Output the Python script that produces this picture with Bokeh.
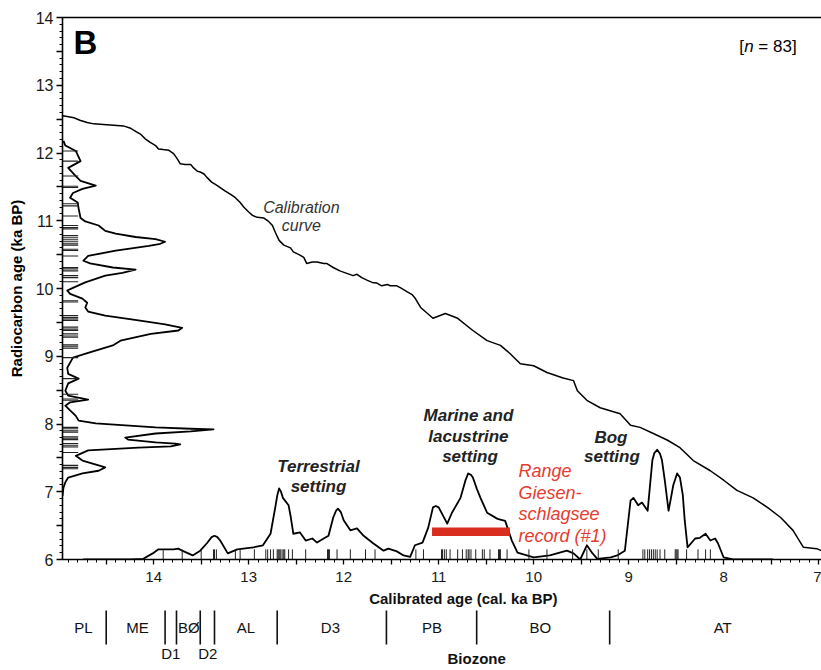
from bokeh.plotting import figure
from bokeh.models import Range1d, FixedTicker, LinearAxis, CustomJSTickFormatter
from bokeh.layouts import column
from bokeh.core.properties import value
from bokeh.embed import file_html
from bokeh.resources import INLINE
import numpy as np

FONT = "Liberation Sans"

# ---------------- data ----------------
# Calibration curve: calibrated age (cal. ka BP) vs radiocarbon age (ka BP)
cal_age = [14.96, 14.91, 14.84, 14.77, 14.70, 14.63, 14.53, 14.42, 14.32, 14.25, 14.19, 14.14,
           14.09, 14.04, 13.98, 13.95, 13.90, 13.84, 13.79, 13.75, 13.72, 13.67, 13.61, 13.58,
           13.54, 13.51, 13.47, 13.44, 13.39, 13.33, 13.30, 13.25, 13.19, 13.14, 13.09, 13.05,
           13.00, 12.96, 12.91, 12.84, 12.79, 12.75, 12.72, 12.68, 12.63, 12.56, 12.53, 12.47,
           12.42, 12.39, 12.33, 12.28, 12.21, 12.18, 12.11, 12.04, 11.96, 11.90, 11.86, 11.81,
           11.75, 11.70, 11.65, 11.60, 11.54, 11.51, 11.44, 11.40, 11.33, 11.28, 11.25,
           11.19, 11.06, 10.93, 10.80, 10.64, 10.49, 10.35, 10.25, 10.14, 10.00, 9.86, 9.69,
           9.58, 9.54, 9.44, 9.30, 9.09, 8.98, 8.88, 8.74, 8.59, 8.46, 8.32, 8.14, 8.00, 7.86,
           7.69, 7.54, 7.40, 7.27, 7.16, 7.02, 6.97]
cal_c14 = [12.55, 12.54, 12.52, 12.48, 12.45, 12.43, 12.42, 12.41, 12.40, 12.37, 12.32, 12.28,
           12.21, 12.16, 12.11, 12.06, 12.05, 12.04, 11.99, 11.91, 11.84, 11.83, 11.83, 11.78,
           11.73, 11.72, 11.69, 11.64, 11.57, 11.52, 11.49, 11.44, 11.39, 11.34, 11.27, 11.20,
           11.13, 11.08, 11.05, 11.04, 10.99, 10.93, 10.83, 10.71, 10.64, 10.60, 10.54, 10.50,
           10.46, 10.37, 10.39, 10.39, 10.37, 10.37, 10.31, 10.26, 10.22, 10.19, 10.21, 10.16,
           10.12, 10.09, 10.08, 10.04, 10.06, 10.04, 10.04, 10.01, 9.95, 9.91, 9.86,
           9.72, 9.56, 9.63, 9.56, 9.38, 9.23, 9.16, 9.04, 8.89, 8.86, 8.76, 8.68,
           8.64, 8.49, 8.35, 8.24, 8.15, 7.98, 7.95, 7.86, 7.76, 7.65, 7.46, 7.31, 7.17, 7.02,
           6.91, 6.77, 6.62, 6.43, 6.18, 6.16, 6.13]

# Summed probability of calibrated ages (height above the x axis, in ka units)
pdf_cal_age = [14.74, 14.25, 14.11, 14.01, 13.95, 13.79, 13.74, 13.70, 13.59, 13.51, 13.44, 13.39,
               13.36, 13.33, 13.30, 13.22, 13.12, 12.95, 12.85, 12.77, 12.72, 12.70, 12.68, 12.66,
               12.64, 12.58, 12.56, 12.53, 12.46,
               12.40, 12.33, 12.28, 12.21, 12.16, 12.11, 12.08, 12.06, 12.03, 12.00, 11.93, 11.86,
               11.79, 11.69,
               11.58, 11.53, 11.44, 11.37, 11.30, 11.25, 11.17, 11.11, 11.06, 11.03, 11.00, 10.91,
               10.86, 10.77, 10.72, 10.69, 10.66, 10.64, 10.60, 10.56, 10.49, 10.38, 10.30, 10.23,
               10.17, 10.00, 9.83, 9.65,
               9.58, 9.51, 9.44, 9.38, 9.33, 9.19, 9.12, 9.04, 8.98, 8.95, 8.90, 8.86, 8.80, 8.75,
               8.73, 8.70, 8.67, 8.65, 8.62, 8.58, 8.56, 8.53, 8.49, 8.46, 8.43, 8.41, 8.38, 8.30,
               8.25, 8.19, 8.14, 8.09, 8.06, 8.00,
               7.90, 7.48]
pdf_cal_h = [0.0, 0.0, 0.01, 0.09, 0.15, 0.15, 0.16, 0.13, 0.06, 0.13, 0.24, 0.33,
             0.35, 0.33, 0.28, 0.09, 0.15, 0.18, 0.21, 0.38, 0.77, 0.94, 1.05, 1.00,
             0.91, 0.80, 0.65, 0.38, 0.40,
             0.28, 0.31, 0.25, 0.31, 0.35, 0.62, 0.72, 0.75, 0.70, 0.58, 0.43, 0.46,
             0.35, 0.24,
             0.13, 0.16, 0.12, 0.06, 0.04, 0.21, 0.25, 0.47, 0.77, 0.79, 0.77, 0.53,
             0.69, 0.91, 1.16, 1.27, 1.25, 1.21, 1.05, 0.91, 0.69, 0.60, 0.57, 0.28,
             0.10, 0.03, 0.06, 0.13,
             0.09, 0.0, 0.21, 0.09, 0.01, 0.03, 0.06, 0.13, 0.87, 0.91, 0.80, 0.84, 0.72, 1.47,
             1.57, 1.62, 1.56, 1.47, 1.17, 0.72, 0.87, 1.10, 1.27, 1.21, 0.95, 0.58, 0.18, 0.31,
             0.32, 0.38, 0.28, 0.31, 0.24, 0.03,
             0.0, 0.0]

# Summed probability of radiocarbon ages (width from the y axis, in cal-ka units)
pdf_c14_age = [12.18, 12.11, 12.03, 11.88, 11.78, 11.66, 11.59, 11.52, 11.47, 11.41, 11.34, 11.27,
               11.18, 11.04, 10.99, 10.93, 10.85, 10.81, 10.76, 10.73, 10.69, 10.66, 10.63, 10.56,
               10.48, 10.41, 10.37, 10.31, 10.28, 10.23, 10.19, 10.09, 10.01, 9.97, 9.92, 9.85,
               9.79, 9.72, 9.66, 9.60, 9.53, 9.47, 9.42, 9.38, 9.33, 9.23, 9.16, 9.05, 8.98, 8.83,
               8.74, 8.67, 8.60, 8.49, 8.42, 8.36, 8.32, 8.27, 8.20, 8.12, 8.05, 8.01, 7.95, 7.93,
               7.92, 7.89, 7.86, 7.80, 7.77, 7.73, 7.71, 7.70, 7.67, 7.65, 7.61, 7.53, 7.46, 7.39,
               7.36, 7.31, 7.27, 7.21, 7.14, 7.06, 6.94]
pdf_c14_w = [0.01, 0.03, 0.14, 0.19, 0.06, 0.14, 0.19, 0.35, 0.21, 0.11, 0.08, 0.16,
             0.17, 0.19, 0.24, 0.38, 0.45, 0.56, 0.77, 0.98, 1.08, 1.03, 0.91, 0.56,
             0.27, 0.22, 0.29, 0.53, 0.77, 0.63, 0.45, 0.24, 0.11, 0.05, 0.08, 0.21,
             0.26, 0.24, 0.27, 0.45, 0.80, 1.08, 1.26, 1.22, 0.93, 0.61, 0.53, 0.27, 0.11, 0.05,
             0.06, 0.17, 0.06, 0.03, 0.06, 0.27, 0.08, 0.03, 0.08, 0.14, 0.17, 0.35, 0.98, 1.35,
             1.59, 1.35, 0.98, 0.66, 0.69, 0.98, 1.19, 1.24, 1.14, 0.80, 0.27, 0.14, 0.21, 0.38,
             0.45, 0.38, 0.21, 0.06, 0.03, 0.01, 0.0]

# Individual dates (rug marks)
rug_cal = [13.90, 13.70, 13.50, 13.37, 13.36, 13.34, 13.14, 13.09, 12.94, 12.82, 12.80, 12.77,
           12.74, 12.70, 12.69, 12.68, 12.67, 12.66, 12.64, 12.63, 12.62, 12.58, 12.54, 12.40,
           12.17, 12.16, 12.15, 12.07, 11.93, 11.77, 11.67, 11.24, 11.16, 10.97, 10.96, 10.94,
           10.92, 10.88, 10.80, 10.75, 10.71, 10.69, 10.68, 10.66, 10.61, 10.54, 10.52, 10.46,
           10.37, 10.36, 10.35, 10.28, 10.05, 9.86, 9.59, 9.44, 9.32, 9.11, 8.85, 8.83, 8.80,
           8.78, 8.76, 8.74, 8.72, 8.70, 8.67, 8.62, 8.51, 8.50, 8.49, 8.48, 8.39, 8.27, 8.19,
           8.14]
rug_c14 = [12.03, 11.88, 11.66, 11.51, 11.49, 11.25, 11.22, 11.07, 10.93, 10.90, 10.88, 10.78,
           10.75, 10.72, 10.69, 10.66, 10.64, 10.58, 10.56, 10.48, 10.31, 10.29, 10.26, 10.19,
           10.16, 10.10, 9.82, 9.80, 9.60, 9.57, 9.55, 9.53, 9.43, 9.40, 9.38, 9.33, 9.30,
           9.28, 9.17, 9.15, 9.12, 8.98, 8.67, 8.44, 8.37, 8.35, 7.95, 7.93, 7.90, 7.88, 7.81,
           7.79, 7.77, 7.71, 7.68, 7.66, 7.58, 7.39, 7.36, 7.34]

# Range of the Giesenschlagsee record (#1)
record_start = [11.07]
record_end = [10.25]
record_level = [6.41]

# Biozones
zone_names = ["PL", "ME", "BØ", "AL", "D3", "PB", "BO", "AT"]
zone_mid = [14.74, 14.17, 13.63, 13.03, 12.14, 11.07, 9.93, 8.01]
zone_bounds = [14.50, 13.88, 13.76, 13.51, 13.36, 12.70, 11.55, 10.60, 9.20]
subzone_names = ["D1", "D2"]
subzone_mid = [13.82, 13.43]

X_LEFT, X_RIGHT = 14.96, 6.97
Y_MIN, Y_MAX = 6, 14
PX_PER_Y = 542 / (Y_MAX - Y_MIN)
BASE_K = 0.4  # baseline correction (fraction of font size) for the svg text placement

# ---------------- main figure ----------------
x_range = Range1d(X_LEFT, X_RIGHT)
p = figure(width=821, height=589, x_range=x_range, y_range=Range1d(Y_MIN, Y_MAX),
           output_backend="svg", toolbar_location=None,
           min_border_left=62, min_border_right=0, min_border_top=17, min_border_bottom=30)
p.grid.visible = False
p.outline_line_color = None
p.background_fill_color = "white"
p.border_fill_color = "white"

fmt = CustomJSTickFormatter(code="""
    return (Math.abs(tick - Math.round(tick)) < 1e-6) ? Math.round(tick).toString() : '';
""")

halves_x = [round(v, 1) for v in np.arange(7.0, 15.0, 0.5)]
tenths_x = [round(v, 1) for v in np.arange(7.0, 15.0, 0.1)]
xa = p.xaxis[0]
xa.ticker = FixedTicker(ticks=halves_x, minor_ticks=tenths_x)
xa.formatter = fmt
xa.major_tick_out = 5
xa.major_tick_in = 0
xa.minor_tick_out = 3
xa.minor_tick_in = 0
xa.axis_line_width = 1.6
xa.major_tick_line_width = 1.3
xa.minor_tick_line_width = 1
xa.major_label_text_font = FONT
xa.major_label_text_font_size = "15px"
xa.major_label_text_color = "#1a1a1a"
xa.major_label_standoff = 7
xa.axis_label_standoff = 0

halves_y = [round(v, 1) for v in np.arange(6.0, 14.01, 0.5)]
tenths_y = [round(v, 1) for v in np.arange(6.0, 14.01, 0.1)]
ya = p.yaxis[0]
ya.ticker = FixedTicker(ticks=halves_y, minor_ticks=tenths_y)
ya.formatter = fmt
ya.major_tick_out = 6
ya.major_tick_in = 0
ya.minor_tick_out = 3
ya.minor_tick_in = 0
ya.axis_line_width = 1.6
ya.major_tick_line_width = 1.3
ya.minor_tick_line_width = 1
ya.major_label_text_font = FONT
ya.major_label_text_font_size = "16px"
ya.major_label_text_color = "#1a1a1a"
ya.major_label_standoff = 3
ya.axis_label = "Radiocarbon age (ka BP)"
ya.axis_label_text_font = FONT
ya.axis_label_text_font_size = "15px"
ya.axis_label_text_font_style = "bold"
ya.axis_label_text_color = "black"
ya.axis_label_standoff = 8

top = LinearAxis(ticker=FixedTicker(ticks=[]), major_tick_out=0, minor_tick_out=0,
                 major_label_text_font_size="0px", axis_line_width=1.6)
p.add_layout(top, "above")

# curves
p.line(cal_age, cal_c14, line_color="black", line_width=1.5, line_join="round")
p.line(pdf_cal_age, [Y_MIN + h for h in pdf_cal_h], line_color="black", line_width=1.8,
       line_join="round")
p.line([X_LEFT - w for w in pdf_c14_w], pdf_c14_age, line_color="black", line_width=1.8,
       line_join="round")

# rugs
p.segment(x0=rug_cal, y0=[Y_MIN] * len(rug_cal), x1=rug_cal, y1=[Y_MIN + 0.15] * len(rug_cal),
          line_color="#222222", line_width=1)
p.segment(x0=[X_LEFT] * len(rug_c14), y0=rug_c14, x1=[X_LEFT - 0.165] * len(rug_c14), y1=rug_c14,
          line_color="#222222", line_width=1.1)

# record range bar
p.hbar(y=record_level, left=record_start, right=record_end, height=0.125,
       fill_color="#d92d20", line_color=None)

# annotations (y = intended baseline)
def txt(x, y, s, size, style="normal", align="left", color="black"):
    y_adj = y + BASE_K * size / PX_PER_Y
    p.text(x=[x], y=[y_adj], text=[s], text_font=value(FONT), text_font_size=f"{size}px",
           text_font_style=style, text_align=align, text_baseline="alphabetic",
           text_color=color)

txt(14.845, 13.44, "B", 33, "bold")
txt(7.835, 13.47, "[", 17)
txt(7.782, 13.47, "n", 17, "italic")
txt(7.635, 13.47, "= 83]", 17)

txt(12.445, 11.107, "Calibration", 16, "italic", "center", "#333333")
txt(12.445, 10.841, "curve", 16, "italic", "center", "#333333")

txt(12.265, 7.269, "Terrestrial", 17, "bold italic", "center", "#222222")
txt(12.265, 6.974, "setting", 17, "bold italic", "center", "#222222")

txt(10.687, 8.027, "Marine and", 17, "bold italic", "center", "#222222")
txt(10.687, 7.717, "lacustrine", 17, "bold italic", "center", "#222222")
txt(10.670, 7.417, "setting", 17, "bold italic", "center", "#222222")

txt(9.187, 7.700, "Bog", 17, "bold italic", "center", "#222222")
txt(9.176, 7.417, "setting", 17, "bold italic", "center", "#222222")

red = "#e53b30"
txt(10.16, 7.203, "Range", 18, "italic", "left", red)
txt(10.16, 6.878, "Giesen-", 18, "italic", "left", red)
txt(10.16, 6.561, "schlagsee", 18, "italic", "left", red)
txt(10.16, 6.244, "record (#1)", 18, "italic", "left", red)

# ---------------- biozone strip ----------------
q = figure(width=821, height=81, x_range=x_range, y_range=Range1d(81, 0),
           output_backend="svg", toolbar_location=None,
           min_border_left=62, min_border_right=0, min_border_top=0, min_border_bottom=0,
           x_axis_location=None, y_axis_location=None)
q.grid.visible = False
q.outline_line_color = None
q.background_fill_color = "white"
q.border_fill_color = "white"

def qtxt(xs, y, labels, size, style="normal"):
    y_adj = y - BASE_K * size
    q.text(x=xs, y=[y_adj] * len(xs), text=labels, text_font=value(FONT),
           text_font_size=f"{size}px", text_font_style=style, text_align="center",
           text_baseline="alphabetic", text_color="#111111")

q.segment(x0=zone_bounds, y0=[21] * len(zone_bounds), x1=zone_bounds, y1=[55] * len(zone_bounds),
          line_color="#111111", line_width=1.6)
qtxt(zone_mid, 43.7, zone_names, 15)
qtxt(subzone_mid, 70, subzone_names, 15)
qtxt([10.74], 14.8, ["Calibrated age (cal. ka BP)"], 15, "bold")
qtxt([10.60], 75, ["Biozone"], 15, "bold")

layout = column(p, q, spacing=0)
open("out.html", "w").write(file_html(layout, INLINE))
